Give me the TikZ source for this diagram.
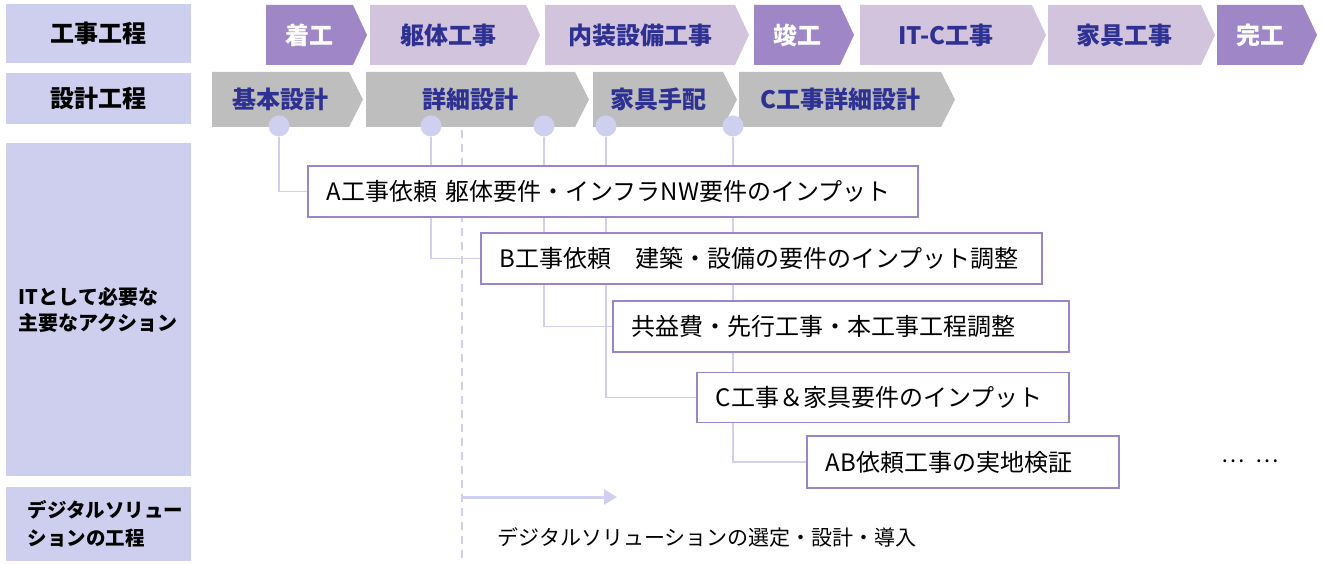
\documentclass[tikz,border=0pt]{standalone}
\usepackage{fontspec}
\setmainfont{Noto Sans CJK JP}
\usetikzlibrary{arrows.meta}

\definecolor{headfill}{HTML}{CECEEE}
\definecolor{milefill}{HTML}{9F87C7}
\definecolor{workfill}{HTML}{D3C4DE}
\definecolor{designfill}{HTML}{BEBEBE}
\definecolor{navytext}{HTML}{2E3192}
\definecolor{boxline}{HTML}{9B85C9}
\definecolor{linkline}{HTML}{CFCFF0}

\pgfdeclarelayer{background}
\pgfsetlayers{background,main}

\tikzset{
  headbox/.style={fill=headfill, minimum width=185pt, inner sep=0pt, text=black},
  phasetext/.style={font=\bfseries\fontsize{24}{27}\selectfont, inner sep=0pt},
  knob/.style={circle, fill=linkline, minimum size=21pt, inner sep=0pt},
  actbox/.style={draw=boxline, line width=1.8pt, fill=white, anchor=west, align=left,
    minimum height=51pt, inner xsep=19pt, font=\fontsize{24}{27}\selectfont},
  link/.style={draw=linkline, line width=1.8pt},
  dashline/.style={draw=linkline, line width=1.5pt, dash pattern=on 8pt off 6pt},
  solarrow/.style={draw=linkline, line width=3pt, -{Triangle[length=13pt,width=15pt]}}
}

% name, x left, x tip, y top, y bottom, fill, text colour, label
\newcommand{\phase}[8]{%
  \fill[#6] (#2,#4) -- (#3-14,#4) -- (#3,{(#4+#5)/2}) -- (#3-14,#5) -- (#2,#5) -- cycle;
  \node[phasetext, text=#7] (#1) at ({(#2+#3-14)/2},{(#4+#5)/2}) {#8};}

\begin{document}
\begin{tikzpicture}[x=1pt,y=-1pt]
\useasboundingbox (0,0) rectangle (1323,564);

% left headings
\node[headbox, minimum height=59pt, font=\bfseries\fontsize{24}{27}\selectfont] (hWork) at (98.5,33.5) {工事工程};
\node[headbox, minimum height=51pt, font=\bfseries\fontsize{24}{27}\selectfont] (hDesign) at (98.5,98.5) {設計工程};
\node[headbox, minimum height=333pt, align=left, font=\bfseries\fontsize{20}{26}\selectfont] (hAction) at (98.5,309.5) {ITとして必要な\\主要なアクション};
\node[headbox, minimum height=74pt, align=left, font=\bfseries\fontsize{19.5}{28}\selectfont] (hSol) at (98.5,524) {\hspace*{14pt}デジタルソリュー\\\hspace*{14pt}ションの工程};

% construction phases
\phase{pStart}{266}{367}{5}{65}{milefill}{white}{着工}
\phase{pFrame}{370}{540}{5}{65}{workfill}{navytext}{躯体工事}
\phase{pInterior}{545}{749}{5}{65}{workfill}{navytext}{内装設備工事}
\phase{pDone}{754}{854}{5}{65}{milefill}{white}{竣工}
\phase{pITC}{860}{1046}{5}{65}{workfill}{navytext}{IT-C工事}
\phase{pFurn}{1048}{1215}{5}{65}{workfill}{navytext}{家具工事}
\phase{pFinish}{1217}{1317}{5}{65}{milefill}{white}{完工}

% design phases
\phase{dBasic}{212}{363}{72}{127}{designfill}{navytext}{基本設計}
\phase{dDetail}{366}{589}{72}{127}{designfill}{navytext}{詳細設計}
\phase{dFurn}{593}{737}{72}{127}{designfill}{navytext}{家具手配}
\phase{dCwork}{739}{955}{72}{127}{designfill}{navytext}{C工事詳細設計}

\node[knob] (kBasic) at (279,126) {};
\node[knob] (kDetailA) at (431,126) {};
\node[knob] (kDetailB) at (544,126) {};
\node[knob] (kFurn) at (606,126) {};
\node[knob] (kCwork) at (733,126) {};

% actions
\node[actbox, text width=572pt] (actA) at (307,191.5) {A工事依頼 躯体要件・インフラNW要件のインプット};
\node[actbox, text width=523pt] (actB) at (480,258.5) {B工事依頼　建築・設備の要件のインプット調整};
\node[actbox, text width=418pt] (actCost) at (612,326.5) {共益費・先行工事・本工事工程調整};
\node[actbox, text width=334pt, minimum height=50pt] (actC) at (696,397.5) {C工事＆家具要件のインプット};
\node[actbox, text width=274pt, minimum height=52pt] (actAB) at (806,462) {AB依頼工事の実地検証};
\node[font=\fontsize{22}{24}\selectfont] (more) at (1250,461) {…\hspace{10pt}…};

\coordinate (dashTop) at (462,130);
\coordinate (dashBot) at (462,564);
\coordinate (solStart) at (462,497);
\coordinate (solEnd) at (617,497);

\begin{pgfonlayer}{background}
\draw[link] (kBasic) |- (actA.west);
\draw[link] (kDetailA) |- (actB.west);
\draw[link] (kDetailB) |- (actCost.west);
\draw[link] (kFurn) |- (actC.west);
\draw[link] (kCwork) |- (actAB.west);
\draw[dashline] (dashTop) -- (dashBot);
\end{pgfonlayer}

\draw[solarrow] (solStart) -- (solEnd);
\node[anchor=west, font=\fontsize{21}{24}\selectfont] (solText) at (494,537) {デジタルソリューションの選定・設計・導入};

\end{tikzpicture}
\end{document}
